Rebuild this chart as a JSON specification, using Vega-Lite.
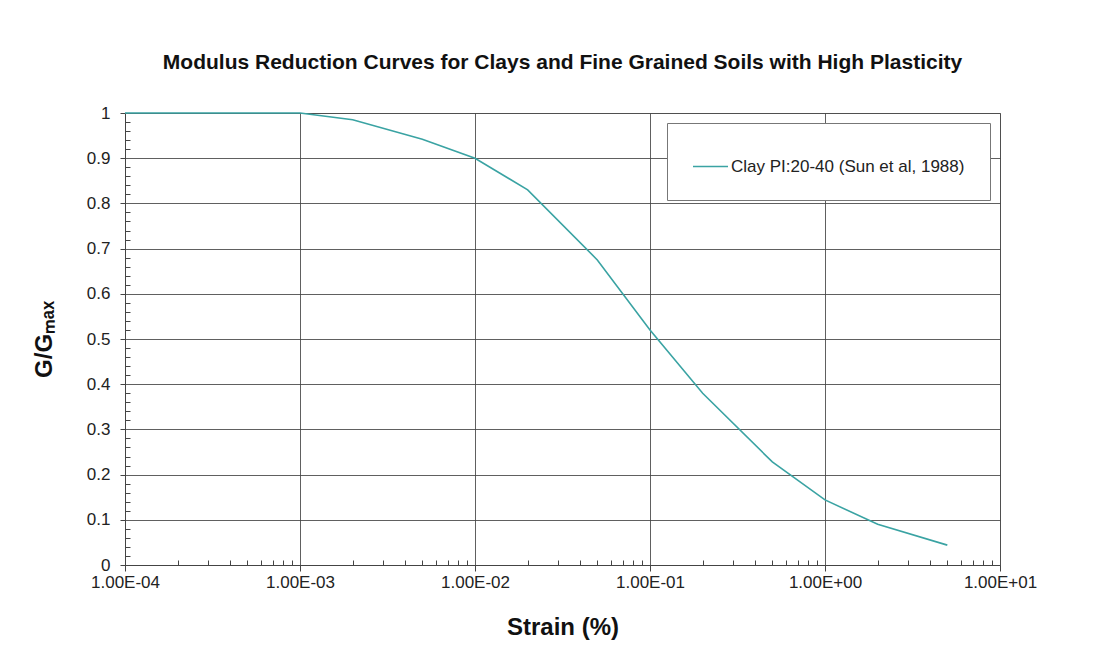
{
  "$schema": "https://vega.github.io/schema/vega-lite/v6.json",
  "autosize": "none",
  "width": 875,
  "height": 452,
  "padding": {"left": 125, "top": 113, "right": 103, "bottom": 98},
  "background": "white",
  "config": {
    "font": "Liberation Sans",
    "view": {"stroke": "#8c8c8c", "strokeWidth": 1}
  },
  "title": {
    "text": "Modulus Reduction Curves for Clays and Fine Grained Soils with High Plasticity",
    "fontSize": 21,
    "fontWeight": "bold",
    "color": "#111",
    "anchor": "middle",
    "offset": 31
  },
  "data": {
    "values": [
      {"strain": 0.0001, "g": 1.0, "series": "Clay PI:20-40 (Sun et al, 1988)"},
      {"strain": 0.001, "g": 1.0, "series": "Clay PI:20-40 (Sun et al, 1988)"},
      {"strain": 0.002, "g": 0.985, "series": "Clay PI:20-40 (Sun et al, 1988)"},
      {"strain": 0.005, "g": 0.942, "series": "Clay PI:20-40 (Sun et al, 1988)"},
      {"strain": 0.01, "g": 0.9, "series": "Clay PI:20-40 (Sun et al, 1988)"},
      {"strain": 0.02, "g": 0.83, "series": "Clay PI:20-40 (Sun et al, 1988)"},
      {"strain": 0.05, "g": 0.675, "series": "Clay PI:20-40 (Sun et al, 1988)"},
      {"strain": 0.1, "g": 0.52, "series": "Clay PI:20-40 (Sun et al, 1988)"},
      {"strain": 0.2, "g": 0.38, "series": "Clay PI:20-40 (Sun et al, 1988)"},
      {"strain": 0.5, "g": 0.228, "series": "Clay PI:20-40 (Sun et al, 1988)"},
      {"strain": 1.0, "g": 0.144, "series": "Clay PI:20-40 (Sun et al, 1988)"},
      {"strain": 2.0, "g": 0.09, "series": "Clay PI:20-40 (Sun et al, 1988)"},
      {"strain": 5.0, "g": 0.044, "series": "Clay PI:20-40 (Sun et al, 1988)"}
    ]
  },
  "resolve": {"axis": {"x": "independent", "y": "independent"}},
  "layer": [
    {
      "mark": {"type": "line", "opacity": 0},
      "encoding": {
        "x": {
          "field": "strain", "type": "quantitative",
          "scale": {"type": "log", "domain": [0.0001, 10]},
          "axis": {
            "orient": "bottom",
            "values": [0.0002,0.0003,0.0004,0.0005,0.0006,0.0007,0.0008,0.0009,0.002,0.003,0.004,0.005,0.006,0.007,0.008,0.009,0.02,0.03,0.04,0.05,0.06,0.07,0.08,0.09,0.2,0.3,0.4,0.5,0.6,0.7,0.8,0.9,2,3,4,5,6,7,8,9],
            "labels": false, "grid": false, "domain": false, "title": null,
            "tickSize": -5, "tickColor": "#444", "tickWidth": 1
          }
        },
        "y": {
          "field": "g", "type": "quantitative",
          "scale": {"domain": [0, 1]},
          "axis": {
            "orient": "left",
            "values": [0.02,0.04,0.06,0.08,0.12,0.14,0.16,0.18,0.22,0.24,0.26,0.28,0.32,0.34,0.36,0.38,0.42,0.44,0.46,0.48,0.52,0.54,0.56,0.58,0.62,0.64,0.66,0.68,0.72,0.74,0.76,0.78,0.82,0.84,0.86,0.88,0.92,0.94,0.96,0.98],
            "labels": false, "grid": false, "domain": false, "title": null,
            "tickSize": -5, "tickColor": "#444", "tickWidth": 1
          }
        }
      }
    },
    {
      "mark": {"type": "line", "strokeWidth": 1.6, "color": "#3aa3a3"},
      "encoding": {
        "x": {
          "field": "strain", "type": "quantitative",
          "scale": {"type": "log", "domain": [0.0001, 10]},
          "axis": {
            "orient": "bottom",
            "values": [0.0001, 0.001, 0.01, 0.1, 1, 10],
            "labelExpr": "'1.00E' + (round(log(datum.value)/LN10) < 0 ? '-' : '+') + (abs(round(log(datum.value)/LN10)) < 10 ? '0' : '') + abs(round(log(datum.value)/LN10))",
            "labelFlush": false, "labelOverlap": false,
            "labelFontSize": 17, "labelColor": "#222", "labelPadding": 3,
            "tickSize": 6, "tickColor": "#444", "domainColor": "#444",
            "grid": true, "gridColor": "#444", "gridOpacity": 0.85, "gridWidth": 1,
            "title": "Strain (%)", "titleFontSize": 24, "titleFontWeight": "bold",
            "titleColor": "#111", "titlePadding": 25
          }
        },
        "y": {
          "field": "g", "type": "quantitative",
          "scale": {"domain": [0, 1]},
          "axis": {
            "orient": "left",
            "values": [0, 0.1, 0.2, 0.3, 0.4, 0.5, 0.6, 0.7, 0.8, 0.9, 1],
            "labelExpr": "datum.value == 0 ? '0' : datum.value == 1 ? '1' : format(datum.value, '.1f')",
            "labelFlush": false, "labelOverlap": false,
            "labelFontSize": 17, "labelColor": "#222", "labelPadding": 10,
            "tickSize": 5, "tickColor": "#444", "domainColor": "#444",
            "grid": true, "gridColor": "#444", "gridOpacity": 0.85, "gridWidth": 1,
            "title": "G/Gₘₐₓ", "titleFontSize": 24, "titleFontWeight": "bold",
            "titleColor": "#111", "titlePadding": 30
          }
        },
        "color": {
          "field": "series", "type": "nominal",
          "scale": {"range": ["#3aa3a3"]},
          "legend": {
            "title": null,
            "orient": "top-right",
            "offset": 10,
            "padding": 25,
            "fillColor": "white",
            "strokeColor": "#777",
            "symbolType": "stroke",
            "symbolSize": 1225,
            "symbolStrokeWidth": 1.6,
            "labelFontSize": 17,
            "labelLimit": 400,
            "labelColor": "#222",
            "labelOffset": 2
          }
        }
      }
    }
  ]
}
